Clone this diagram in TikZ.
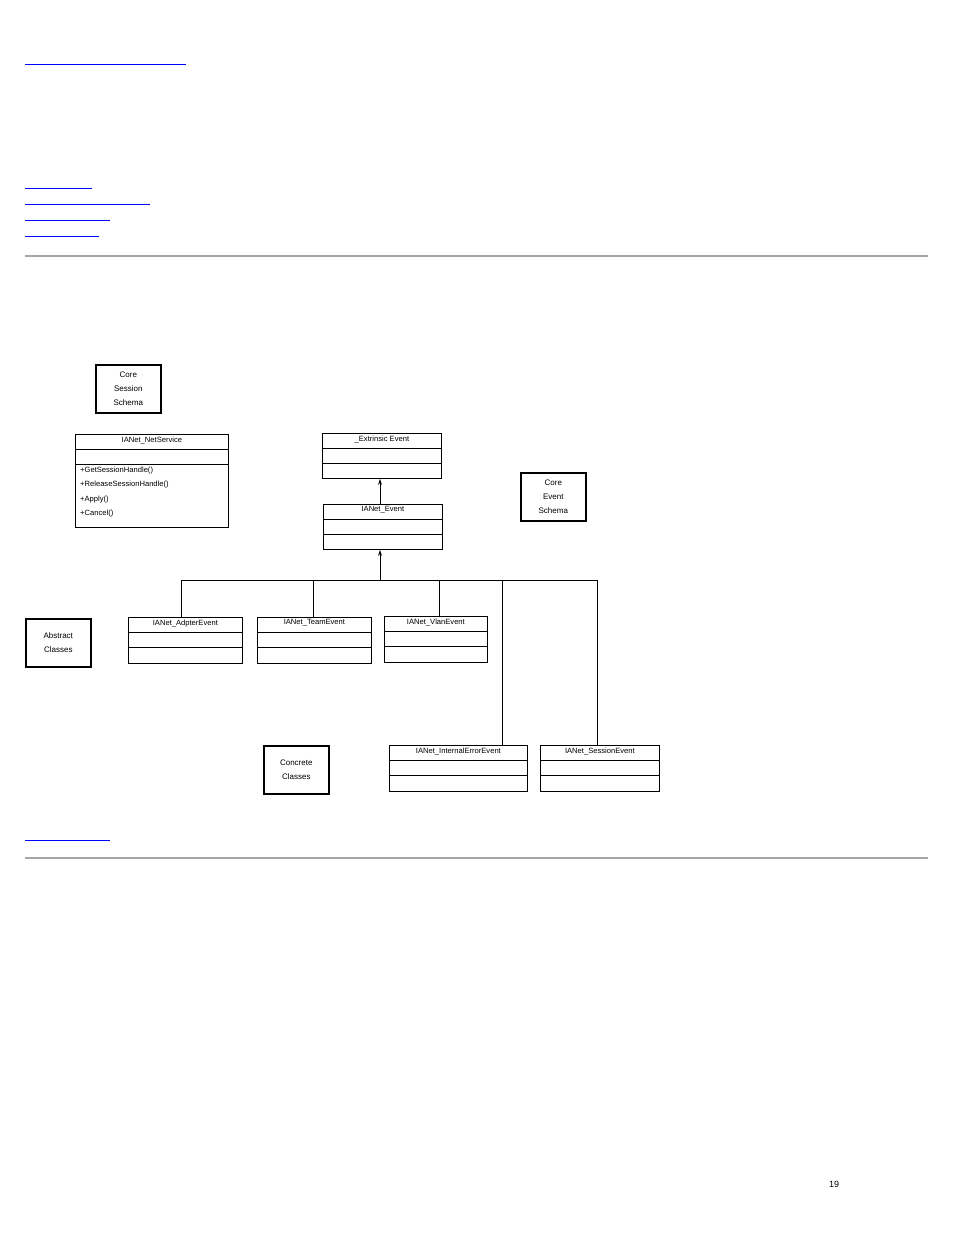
\documentclass[tikz,border=0pt]{standalone}
\usepackage{fontspec}
\setmainfont{Liberation Sans}
\usetikzlibrary{calc,arrows.meta}
\begin{document}
\begin{tikzpicture}[x=1pt,y=-1pt,
  cls/.style={draw,line width=0.8pt,anchor=north west,inner sep=0pt},
  lbl/.style={draw,line width=1.6pt,anchor=north west,inner sep=0pt,align=center,font=\fontsize{8}{14}\selectfont},
  link/.style={blue,line width=1pt},
  rule/.style={gray!70,line width=1.2pt},
  conn/.style={line width=0.8pt},
  inh/.style={conn,-{Stealth[length=6pt,width=4pt]}},
  t/.style={font=\fontsize{7.6}{9}\selectfont,anchor=north,inner sep=0pt}]
\useasboundingbox (0,0) rectangle (954,1235);
\fill[white] (0,0) rectangle (954,1235);
% links and rules
\coordinate (l1a) at (25,64); \coordinate (l1b) at (186,64); \draw[link] (l1a)--(l1b);
\coordinate (l2a) at (25,188); \coordinate (l2b) at (92,188); \draw[link] (l2a)--(l2b);
\coordinate (l3a) at (25,204); \coordinate (l3b) at (150,204); \draw[link] (l3a)--(l3b);
\coordinate (l4a) at (25,220); \coordinate (l4b) at (110,220); \draw[link] (l4a)--(l4b);
\coordinate (l5a) at (25,236); \coordinate (l5b) at (99,236); \draw[link] (l5a)--(l5b);
\coordinate (l6a) at (25,840); \coordinate (l6b) at (110,840); \draw[link] (l6a)--(l6b);
\coordinate (r1a) at (25,256); \coordinate (r1b) at (928,256); \draw[rule] (r1a)--(r1b);
\coordinate (r2a) at (25,858); \coordinate (r2b) at (928,858); \draw[rule] (r2a)--(r2b);
\node[font=\fontsize{9}{10}\selectfont] (pg) at (834,1184) {19};
% label boxes
\node[lbl,minimum width=65,minimum height=48] (css) at (95,364) {Core\\Session\\Schema};
\node[lbl,minimum width=65,minimum height=48] (ces) at (520,472) {Core\\Event\\Schema};
\node[lbl,minimum width=65,minimum height=48] (abs) at (25,618) {Abstract\\Classes};
\node[lbl,minimum width=65,minimum height=48] (con) at (263,745) {Concrete\\Classes};
% classes: name, x, y, w, h
\newcommand{\umlcls}[6]{%
  \node[cls,minimum width=#4,minimum height=#5] (#1) at (#2,#3) {};
  \draw[line width=0.8pt] ($(#1.north west)+(0,15)$) -- ($(#1.north east)+(0,15)$);
  \draw[line width=0.8pt] ($(#1.north west)+(0,30)$) -- ($(#1.north east)+(0,30)$);
  \node[t] (#1t) at ($(#1.north)+(0,2.5)$) {#6};}
\umlcls{ns}{75}{434}{153}{93}{IANet\_NetService}
\node[anchor=north west,inner sep=0pt,align=left,font=\fontsize{7.6}{14.2}\selectfont] (nsops) at (80,467) {+GetSessionHandle()\\+ReleaseSessionHandle()\\+Apply()\\+Cancel()};
\umlcls{ext}{322}{433}{119}{45}{\_Extrinsic Event}
\umlcls{ev}{323}{504}{119}{45}{IANet\_Event}
\umlcls{ad}{128}{617}{114}{46}{IANet\_AdpterEvent}
\umlcls{tm}{257}{617}{114}{46}{IANet\_TeamEvent}
\umlcls{vl}{384}{616}{103}{46}{IANet\_VlanEvent}
\umlcls{ie}{389}{745}{138}{46}{IANet\_InternalErrorEvent}
\umlcls{se}{540}{745}{119}{46}{IANet\_SessionEvent}
% connectors
\coordinate (bus) at (380,580);
\draw[inh] (ev.north -| bus) -- (ext.south -| bus);
\draw[inh] (bus) -- (ev.south -| bus);
\coordinate (bl) at (181,580); \coordinate (br) at (597,580);
\draw[conn] (bl) -- (br);
\draw[conn] (bl) -- (ad.north -| bl);
\draw[conn] (313,580) -- (tm.north -| 313,0);
\draw[conn] (439,580) -- (vl.north -| 439,0);
\draw[conn] (502,580) -- (ie.north -| 502,0);
\draw[conn] (br) -- (se.north -| br);
\end{tikzpicture}
\end{document}
